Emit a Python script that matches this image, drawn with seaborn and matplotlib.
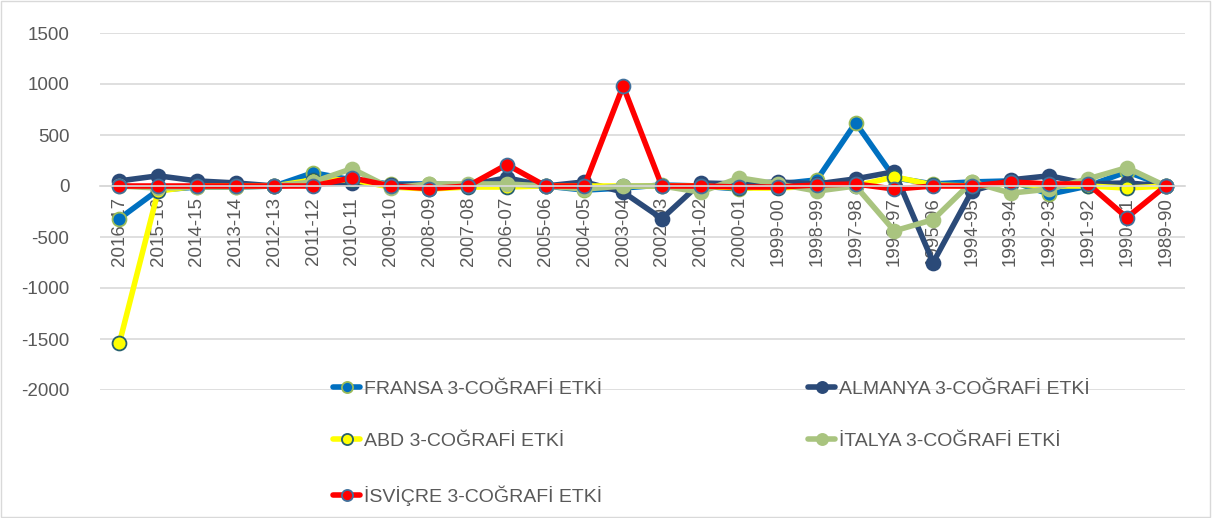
import matplotlib
matplotlib.use("Agg")
import matplotlib.pyplot as plt
import seaborn as sns
import pandas as pd
from matplotlib.patches import Rectangle

# sezonlar (soldan saga)
seasons = ["2016-17", "2015-16", "2014-15", "2013-14", "2012-13", "2011-12", "2010-11",
           "2009-10", "2008-09", "2007-08", "2006-07", "2005-06", "2004-05", "2003-04",
           "2002-03", "2001-02", "2000-01", "1999-00", "1998-99", "1997-98", "1996-97",
           "1995-96", "1994-95", "1993-94", "1992-93", "1991-92", "1990-91", "1989-90"]

fransa = [-320, -40, -10, -10, 0, 130, 60, 20, 20, 10, 10, 0, -40, -20,
          10, 0, -30, 20, 60, 620, 80, 20, 40, 50, -80, 0, 140, 0]
almanya = [50, 100, 50, 30, 0, 20, 30, 10, 10, 10, 80, 0, 40, -60,
           -320, 30, 20, 40, 20, 70, 140, -750, -50, 60, 100, 20, 30, 0]
abd = [-1540, -50, 0, 0, 0, 60, 60, -10, -30, -10, -10, 0, 0, 0,
       0, 0, -20, -20, 0, 0, 90, 10, 0, 20, 0, 0, -20, 0]
italya = [0, -20, -10, -10, 0, 40, 170, -20, 20, 20, 20, 0, -30, 0,
          0, -60, 80, 20, -50, 0, -440, -330, 40, -70, -30, 70, 180, 0]
isvicre = [0, 0, 0, 0, 0, 0, 80, 0, -25, 0, 210, 0, 0, 980,
           0, 0, -10, -10, 10, 20, -30, 0, 0, 40, 20, 20, -310, 0]

series = [
    ("FRANSA 3-COĞRAFİ ETKİ", fransa, "#0070C0", "#9BBB59"),
    ("ALMANYA 3-COĞRAFİ ETKİ", almanya, "#2B4A78", "#2B4A78"),
    ("ABD 3-COĞRAFİ ETKİ", abd, "#FFFF00", "#26606E"),
    ("İTALYA 3-COĞRAFİ ETKİ", italya, "#A9C47F", "#A9C47F"),
    ("İSVİÇRE 3-COĞRAFİ ETKİ", isvicre, "#FF0000", "#41719C"),
]

sns.set_theme(style="white")
plt.rcParams['font.family'] = ['Liberation Sans', 'DejaVu Sans']
plt.rcParams['axes.unicode_minus'] = False

fig = plt.figure(figsize=(12.12, 5.18), dpi=100)
ax = fig.add_axes([100 / 1212, 1 - 390 / 518, 1085 / 1212, 357 / 518])

x = list(range(len(seasons)))
for name, vals, color, edge in series:
    df = pd.DataFrame({"x": x, "y": vals})
    sns.lineplot(data=df, x="x", y="y", ax=ax, color=color, linewidth=4,
                 marker="o", markersize=10, markerfacecolor=color,
                 markeredgecolor=edge, markeredgewidth=1.3, label=name)
handles_list, labels_list = ax.get_legend_handles_labels()
ax.get_legend().remove()
handles = dict(zip(labels_list, handles_list))

ax.set_xlim(-0.5, len(seasons) - 0.5)
ax.set_ylim(-2000, 1500)
ax.set_yticks(range(-2000, 1501, 500))
ax.yaxis.grid(True, color="#D9D9D9", linewidth=1.2)
ax.set_axisbelow(True)
ax.set_xlabel("")
ax.set_ylabel("")

ax.set_xticks(x)
ax.set_xticklabels(seasons)
ax.spines['bottom'].set_position(('data', 0))
ax.spines['bottom'].set_color("#D9D9D9")
for s in ["top", "left", "right"]:
    ax.spines[s].set_visible(False)
ax.tick_params(axis="x", length=0, pad=8, labelsize=13.5, labelcolor="#595959",
               labelrotation=90)
ax.tick_params(axis="y", length=0, pad=22, labelsize=13.5, labelcolor="#595959")

leg_kw = dict(frameon=False, fontsize=14, handlelength=1.4, handletextpad=0.2,
              labelspacing=1.8, borderaxespad=0, borderpad=0, labelcolor="#595959",
              markerscale=0.8)
col1 = ["FRANSA 3-COĞRAFİ ETKİ", "ABD 3-COĞRAFİ ETKİ", "İSVİÇRE 3-COĞRAFİ ETKİ"]
col2 = ["ALMANYA 3-COĞRAFİ ETKİ", "İTALYA 3-COĞRAFİ ETKİ"]
fig.legend([handles[k] for k in col1], col1, loc="upper left",
           bbox_to_anchor=(333 / 1212, 1 - 380 / 518), **leg_kw)
fig.legend([handles[k] for k in col2], col2, loc="upper left",
           bbox_to_anchor=(808 / 1212, 1 - 380 / 518), **leg_kw)

fig.patches.append(Rectangle((0.001, 0.002), 0.997, 0.996, transform=fig.transFigure,
                             fill=False, edgecolor="#D9D9D9", linewidth=1))

fig.savefig("out.png", dpi=100)
